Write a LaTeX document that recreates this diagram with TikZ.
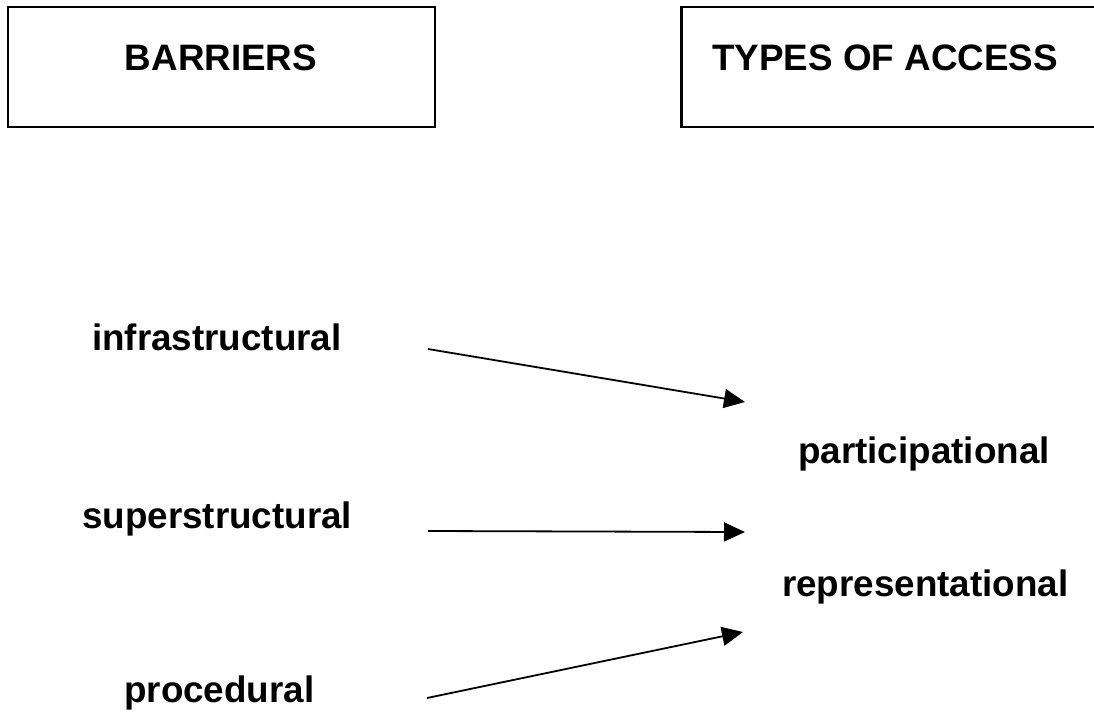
\documentclass[tikz,border=0pt]{standalone}
\usepackage{fontspec}
\setmainfont{Liberation Sans}
\usetikzlibrary{arrows.meta}
\tikzset{
  hbox/.style={draw=black, line width=2.3pt, minimum width=427pt, minimum height=120pt, inner sep=0pt},
  lbl/.style={inner sep=0pt, font=\bfseries\fontsize{36.8}{44}\selectfont},
  conn/.style={line width=1.8pt, -{Triangle[length=21pt,width=19pt]}}
}
\begin{document}
\begin{tikzpicture}[x=1pt,y=-1pt]
\useasboundingbox (0,0) rectangle (1094,715);
\clip (0,0) rectangle (1094,715);
\fill[white] (0,0) rectangle (1094,715);
% header boxes
\node[hbox] (bbox) at (221.5,67) {};
\node[hbox] (tbox) at (895,67) {};
\node[lbl, anchor=base] (barriers) at (221,70) {BARRIERS};
\node[lbl, anchor=base] (types) at (885,70) {TYPES OF ACCESS};
% labels
\node[lbl, anchor=base west] (infra) at (92,350) {infrastructural};
\node[lbl, anchor=base west] (super) at (82,528) {superstructural};
\node[lbl, anchor=base west] (proc) at (124,702) {procedural};
\node[lbl, anchor=base west] (part) at (798,463) {participational};
\node[lbl, anchor=base west] (repr) at (782,596) {representational};
% connector end points
\coordinate (s1) at (428,349);
\coordinate (e1) at (745,402);
\coordinate (s2) at (428,531);
\coordinate (e2) at (745,532);
\coordinate (s3) at (427,698);
\coordinate (e3) at (743,632);
\draw[conn] (s1) -- (e1);
\draw[conn] (s2) -- (e2);
\draw[conn] (s3) -- (e3);
\end{tikzpicture}
\end{document}
